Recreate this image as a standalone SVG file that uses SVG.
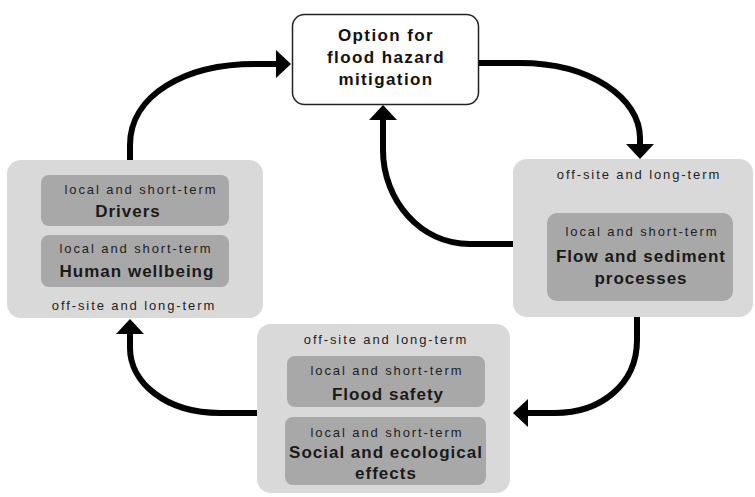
<svg xmlns="http://www.w3.org/2000/svg" width="755" height="497" viewBox="0 0 755 497">
<style>
.outer{fill:#d9d9d9;}
.inner{fill:#a8a8a8;}
.sm{font-family:"Liberation Sans",Arial,sans-serif;font-size:13px;letter-spacing:1.9px;fill:#1e1e1e;text-anchor:middle;}
.bg{font-family:"Liberation Sans",Arial,sans-serif;font-size:17px;font-weight:bold;letter-spacing:1px;fill:#1a1a1a;text-anchor:middle;}
.tp{font-family:"Liberation Sans",Arial,sans-serif;font-size:17px;font-weight:bold;letter-spacing:1.4px;fill:#111;text-anchor:middle;}
.con{fill:none;stroke:#000;stroke-width:6;}
</style>
<defs>
<marker id="ah" markerUnits="userSpaceOnUse" markerWidth="16" markerHeight="30" refX="1" refY="15" orient="auto" viewBox="0 0 16 30">
<path d="M0,1 L15,15 L0,29 Z" fill="#000"/>
</marker>
</defs>
<rect width="755" height="497" fill="#fff"/>

<g id="connectors">
<path class="con" d="M130,160 L130,145 C130,95 185,64 255,64 L277,64" marker-end="url(#ah)"/>
<path class="con" d="M478,63 L520,63 C590,63 640,98 640,138 L640,145" marker-end="url(#ah)"/>
<path class="con" d="M513,244 L470,244 C420,244 383,200 383,150 L383,119" marker-end="url(#ah)"/>
<path class="con" d="M637,317 L637,340 C637,385 600,413 555,413 L527,413" marker-end="url(#ah)"/>
<path class="con" d="M257,413 L220,413 C165,413 130,382 130,348 L130,333" marker-end="url(#ah)"/>
</g>

<g id="option">
<rect x="292.5" y="14.5" width="186" height="90" rx="12" fill="#fff" stroke="#222" stroke-width="1.5"/>
<text class="tp" x="386" y="41">Option for</text>
<text class="tp" x="386" y="63">flood hazard</text>
<text class="tp" x="386" y="85">mitigation</text>
</g>

<g id="left">
<rect class="outer" x="7" y="160" width="256" height="158" rx="14"/>
<rect class="inner" x="41" y="175" width="188" height="51" rx="8"/>
<text class="sm" x="141" y="194">local and short-term</text>
<text class="bg" x="128" y="217">Drivers</text>
<rect class="inner" x="41" y="235" width="188" height="52" rx="8"/>
<text class="sm" x="136" y="253">local and short-term</text>
<text class="bg" x="137" y="277">Human wellbeing</text>
<text class="sm" x="134" y="310">off-site and long-term</text>
</g>

<g id="right">
<rect class="outer" x="513" y="159" width="240" height="158" rx="14"/>
<text class="sm" x="639" y="179">off-site and long-term</text>
<rect class="inner" x="547" y="213" width="186" height="88" rx="10"/>
<text class="sm" x="642" y="236">local and short-term</text>
<text class="bg" x="641" y="262">Flow and sediment</text>
<text class="bg" x="641" y="284">processes</text>
</g>

<g id="bottom">
<rect class="outer" x="257" y="324" width="253" height="169" rx="14"/>
<text class="sm" x="386" y="344">off-site and long-term</text>
<rect class="inner" x="287" y="356" width="198" height="51" rx="8"/>
<text class="sm" x="387" y="375">local and short-term</text>
<text class="bg" x="388" y="400">Flood safety</text>
<rect class="inner" x="285" y="417" width="201" height="68" rx="8"/>
<text class="sm" x="387" y="437">local and short-term</text>
<text class="bg" x="386" y="458">Social and ecological</text>
<text class="bg" x="386" y="479">effects</text>
</g>
</svg>
